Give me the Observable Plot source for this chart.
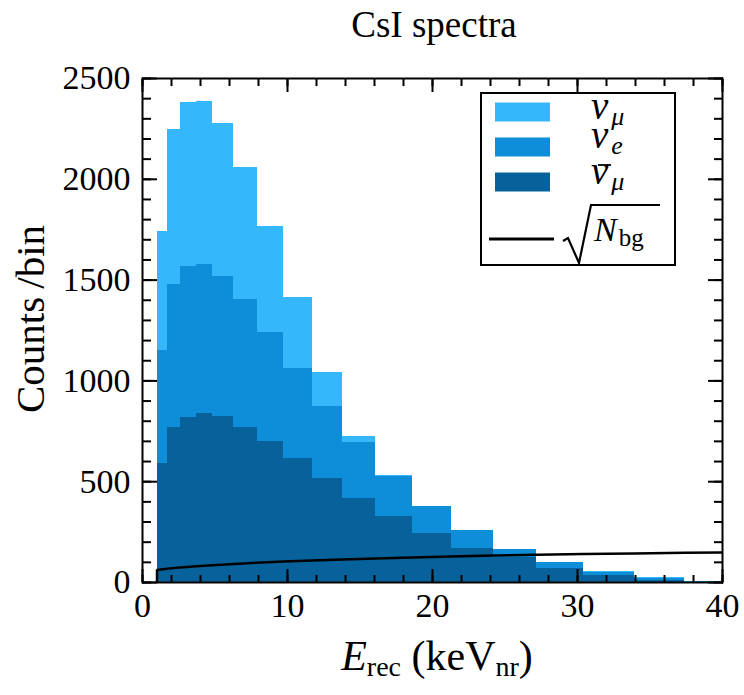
<!DOCTYPE html>
<html><head><meta charset="utf-8">
<script src="https://cdn.jsdelivr.net/npm/d3@7"></script>
<script src="https://cdn.jsdelivr.net/npm/@observablehq/plot@0.6"></script>
<style>
body{margin:0;background:#fff}
#chart svg{font-family:"Liberation Serif","DejaVu Serif",serif}
</style>
</head><body><div id="chart"></div>
<script>
// Bin edges (keV_nr)
const binEdges = [1.0,1.7,2.6,3.7,4.8,6.3,7.9,9.7,11.7,13.8,16.1,18.6,21.3,24.2,27.2,30.4,33.9,37.4,41.2];
// Counts per bin, per flavour (stacked bottom to top: anti-nu_mu, nu_e, nu_mu)
const numubarCounts = [588,767,819,836,823,770,700,613,516,419,326,243,171,125,70,37,12,2];
const nueCounts     = [562,710,749,742,695,632,541,450,356,276,200,134,86,37,29,13,10,1];
const numuCounts    = [591,769,812,807,758,656,525,352,171,28,4,2,1,1,1,4,3,0];
const seriesNames   = ["numubar","nue","numu"];
const seriesColors  = ["#07619a","#0e8ed8","#35b8fb"];
// sqrt(N_bg) curve
const bgX = [1.0,1.0,1.7,2.6,3.7,4.8,6.3,7.9,9.7,11.7,13.8,16.1,18.6,21.3,24.2,27.2,30.4,33.9,37.4,40.0];
const bgY = [0,62,68,75,81,86,92,98,104,109,114,119,124,129,134,138,141,144,147,149];
// ticks
const xMajor = [0,10,20,30,40];
const xMinor = d3.range(0,41,2);
const yMajor = [0,500,1000,1500,2000,2500];
const yMinor = d3.range(0,2501,100);

const seriesCounts = [numubarCounts, nueCounts, numuCounts];
const table = [];
seriesNames.forEach((s, k) => {
  seriesCounts[k].forEach((v, i) => table.push({x1: binEdges[i], x2: binEdges[i+1], y: v, s}));
});
const bg = bgX.map((x, i) => ({x, y: bgY[i]}));

const W = 744, H = 695;
const mL = 142, mR = 22, mT = 78, mB = 113;
const FS = 34;
const noLabel = () => "";
const num = d => String(d);

const plot = Plot.plot({
  width: W, height: H,
  marginLeft: mL, marginRight: mR, marginTop: mT, marginBottom: mB,
  x: {domain: [0, 40], label: null},
  y: {domain: [0, 2500], label: null},
  color: {domain: seriesNames, range: seriesColors},
  marks: [
    Plot.rectY(table, {x1: "x1", x2: "x2", y: "y", fill: "s", clip: true, shapeRendering: "crispEdges"}),
    Plot.line(bg, {x: "x", y: "y", stroke: "black", strokeWidth: 2.5, clip: true}),
    Plot.axisX({anchor: "bottom", ticks: xMajor, tickSize: -13, tickPadding: 23, strokeWidth: 2, fontSize: FS, tickFormat: num}),
    Plot.axisX({anchor: "bottom", ticks: xMinor, tickSize: -7, strokeWidth: 2, tickFormat: noLabel}),
    Plot.axisX({anchor: "top", ticks: xMajor, tickSize: -13, strokeWidth: 2, tickFormat: noLabel}),
    Plot.axisX({anchor: "top", ticks: xMinor, tickSize: -7, strokeWidth: 2, tickFormat: noLabel}),
    Plot.axisY({anchor: "left", ticks: yMajor, tickSize: -15, tickPadding: 27, strokeWidth: 2, fontSize: FS, tickFormat: num}),
    Plot.axisY({anchor: "left", ticks: yMinor, tickSize: -9, strokeWidth: 2, tickFormat: noLabel}),
    Plot.axisY({anchor: "right", ticks: yMajor, tickSize: -15, strokeWidth: 2, tickFormat: noLabel}),
    Plot.axisY({anchor: "right", ticks: yMinor, tickSize: -9, strokeWidth: 2, tickFormat: noLabel}),
    Plot.frame({stroke: "black", strokeWidth: 2})
  ]
});
document.getElementById("chart").appendChild(plot);

// Titles and labels (rich text with subscripts)
const svg = d3.select(plot);
const cx = (mL + (W - mR)) / 2;
svg.append("text").attr("x", cx + 2).attr("y", 37).attr("text-anchor", "middle")
  .attr("font-size", 37).attr("fill", "black").text("CsI spectra");

const xl = svg.append("text").attr("x", cx + 5).attr("y", 670).attr("text-anchor", "middle")
  .attr("font-size", 42).attr("fill", "black");
xl.append("tspan").attr("font-style", "italic").text("E");
xl.append("tspan").attr("font-size", 28).attr("dy", 6).text("rec");
xl.append("tspan").attr("dy", -6).text(" (keV");
xl.append("tspan").attr("font-size", 28).attr("dy", 6).text("nr");
xl.append("tspan").attr("dy", -6).text(")");

svg.append("text").attr("transform", `translate(44,319) rotate(-90)`).attr("text-anchor", "middle")
  .attr("font-size", 41).attr("fill", "black").text("Counts\u2009/bin");

// Legend
const lg = svg.append("g").attr("text-anchor", "start");
lg.append("rect").attr("x", 481).attr("y", 93).attr("width", 194).attr("height", 172)
  .attr("fill", "white").attr("stroke", "black").attr("stroke-width", 2);
const rows = [
  {c: seriesColors[2], y: 112, base: 119, sub: "μ", bar: false},
  {c: seriesColors[1], y: 147, base: 148, sub: "e", bar: false},
  {c: seriesColors[0], y: 182, base: 184, sub: "μ", bar: true}
];
rows.forEach(r => {
  lg.append("rect").attr("x", 495).attr("y", r.y - 9.5).attr("width", 55).attr("height", 19).attr("fill", r.c);
  const t = lg.append("text").attr("x", 591).attr("y", r.base).attr("font-size", 39)
    .attr("text-anchor", "start").attr("font-style", "italic").attr("fill", "black");
  t.append("tspan").text("ν");
  t.append("tspan").attr("font-size", 26).attr("dx", 3).attr("dy", 6).text(r.sub);
  if (r.bar) lg.append("line").attr("x1", 598).attr("x2", 611).attr("y1", 165).attr("y2", 165)
    .attr("stroke", "black").attr("stroke-width", 1.8);
});
lg.append("line").attr("x1", 489).attr("x2", 554).attr("y1", 239).attr("y2", 239)
  .attr("stroke", "black").attr("stroke-width", 3);
lg.append("path").attr("d", "M563,241 L568,238 L579,263 L591,205 L660,205")
  .attr("fill", "none").attr("stroke", "black").attr("stroke-width", 2.2);
const nb = lg.append("text").attr("x", 594).attr("y", 241).attr("font-size", 34)
  .attr("text-anchor", "start").attr("fill", "black");
nb.append("tspan").attr("font-style", "italic").text("N");
nb.append("tspan").attr("font-size", 25).attr("dx", 2).attr("dy", 5).text("bg");
</script>
</body></html>
